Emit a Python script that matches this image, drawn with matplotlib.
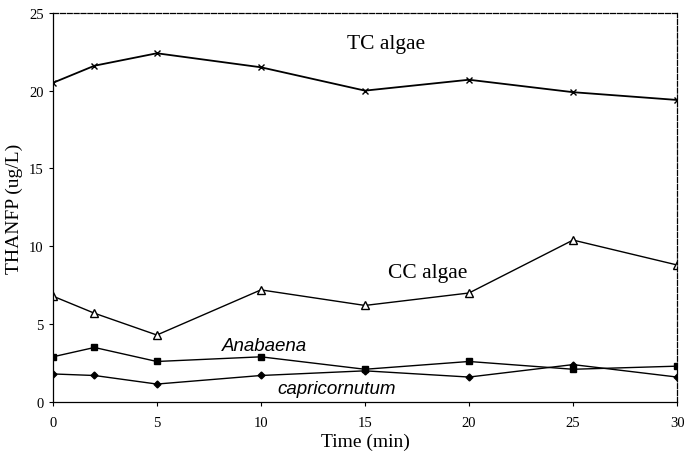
import numpy as np
import matplotlib
matplotlib.use('Agg')
from matplotlib import pyplot as plt

plt.rcParams['font.family'] = ['Liberation Serif', 'DejaVu Serif']

# time points (min)
time = [0, 2, 5, 10, 15, 20, 25, 30]
# THANFP (ug/L) for each source
tc_algae = [20.5, 21.6, 22.4, 21.5, 20.0, 20.7, 19.9, 19.4]
cc_algae = [6.8, 5.7, 4.3, 7.2, 6.2, 7.0, 10.4, 8.8]
anabaena = [2.9, 3.5, 2.6, 2.9, 2.1, 2.6, 2.1, 2.3]
capricornutum = [1.8, 1.7, 1.15, 1.7, 2.0, 1.6, 2.4, 1.6]

xticks = [0, 5, 10, 15, 20, 25, 30]
yticks = [0, 5, 10, 15, 20, 25]

fig = plt.figure(figsize=(6.86, 4.6), dpi=100)
ax = fig.add_axes([0.077, 0.124, 0.910, 0.846])

ax.plot(time, tc_algae, 'k-', marker='x', markersize=5, lw=1.3)
ax.plot(time, cc_algae, 'k-', marker='^', markersize=6, mfc='white', lw=1.0)
ax.plot(time, anabaena, 'k-', marker='s', markersize=5, lw=1.0)
ax.plot(time, capricornutum, 'k-', marker='D', markersize=3.5, lw=1.0)

ax.text(16.0, 23.0, 'TC algae', fontsize=15.5, ha='center', va='center')
ax.text(18.0, 8.3, 'CC algae', fontsize=15.5, ha='center', va='center')
ax.text(10.15, 3.65, 'Anabaena', fontsize=13.5, style='italic',
        family='Liberation Sans', ha='center', va='center')
ax.text(13.65, 0.85, 'capricornutum', fontsize=13.5, style='italic',
        family='Liberation Sans', ha='center', va='center')

ax.set_xlim(0, 30)
ax.set_ylim(0, 25)
ax.set_xticks(xticks)
ax.set_yticks(yticks)
ax.tick_params(direction='out', length=3, width=0.8, labelsize=10.5)
ax.tick_params(axis='x', pad=7)

ax.spines['top'].set_linestyle((0, (4, 1.5)))
ax.spines['right'].set_linestyle((0, (4, 1.5)))
for s in ax.spines.values():
    s.set_linewidth(0.9)

ax.set_xlabel('Time (min)', fontsize=14)
ax.set_ylabel('THANFP (ug/L)', fontsize=14)
ax.xaxis.set_label_coords(0.5, -0.078)
ax.yaxis.set_label_coords(-0.047, 0.5)

fig.savefig('out.png', dpi=100)
